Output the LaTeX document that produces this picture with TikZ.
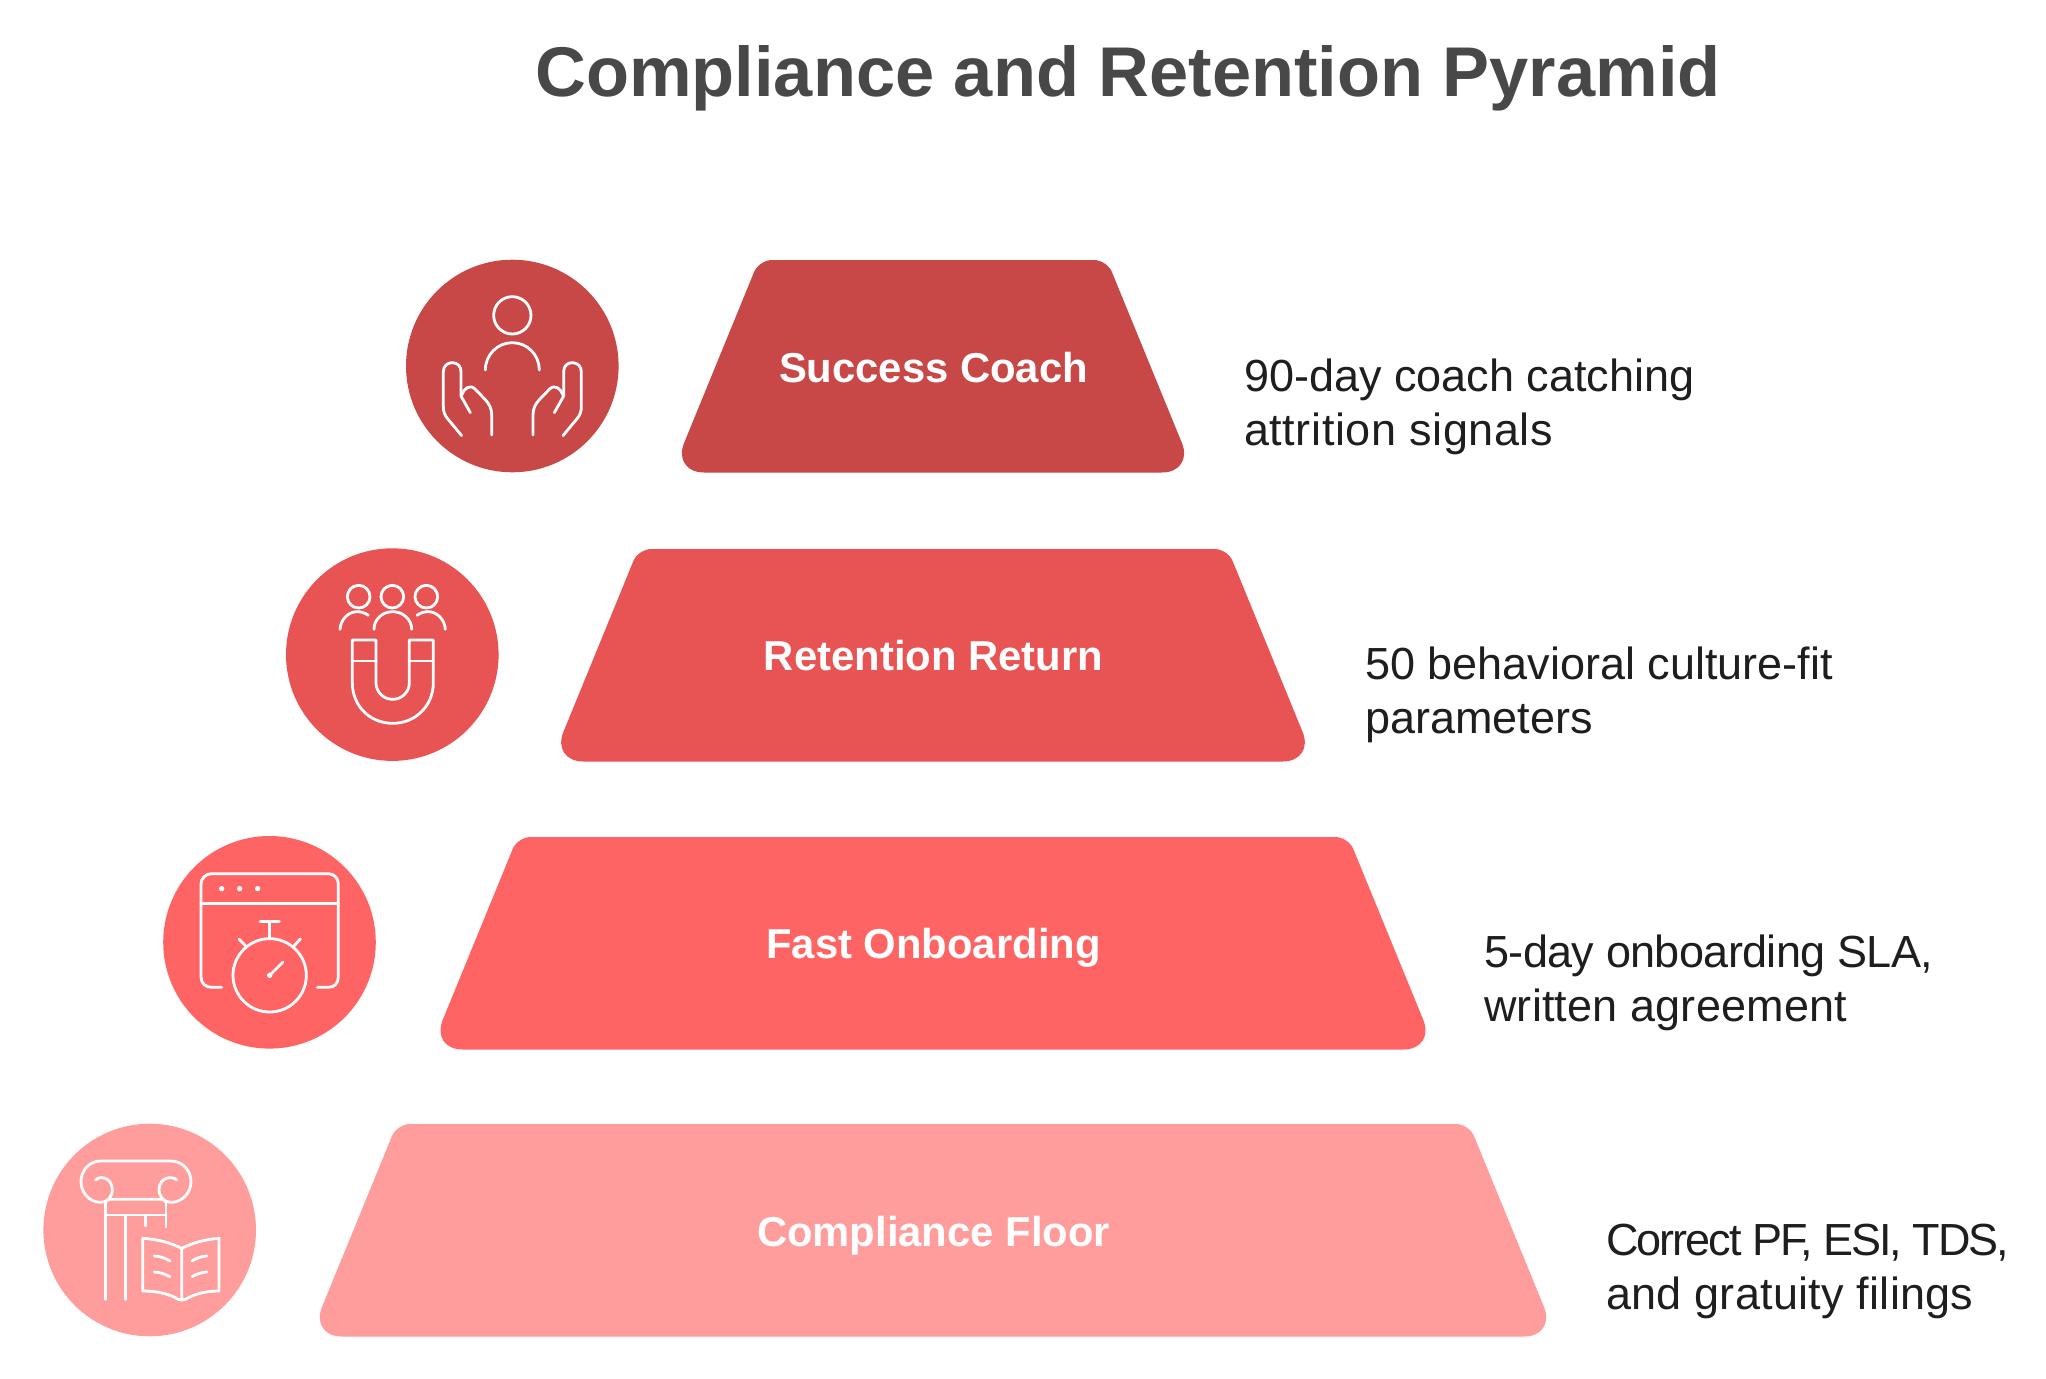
\documentclass[tikz,border=0pt]{standalone}
\usepackage{fontspec}
\setmainfont{Liberation Sans}
\definecolor{cA}{HTML}{C84848}
\definecolor{cB}{HTML}{E85353}
\definecolor{cC}{HTML}{FF6464}
\definecolor{cD}{HTML}{FF9C9C}
\definecolor{titlec}{HTML}{484848}
\definecolor{labelc}{HTML}{1E1E1E}
\tikzset{
  tier/.style={fill=#1},
  disc/.style={fill=#1},
  tiertext/.style={text=white,anchor=base,font=\bfseries\fontsize{41.8}{54}\selectfont,inner sep=0pt},
  sidetext/.style={text=labelc,anchor=west,align=left,inner sep=0pt,font=\fontsize{45}{54}\selectfont},
  titletext/.style={text=titlec,anchor=base,inner sep=0pt,font=\bfseries\fontsize{70.4}{80}\selectfont},
  iconline/.style={draw=white,line width=2.8pt,line cap=round,line join=round},
  zoomed/.style={shift={#1},x=0.33333pt,y=-0.33333pt}
}
\newcommand{\trap}[4]{% colour, top half, bottom half, top y
  \fill[tier=#1] (933,#4) [rounded corners=13pt] -- (933+#2,#4) [rounded corners=32pt] -- (933+#3,#4+212.5) -- (933-#3,#4+212.5) [rounded corners=13pt] -- (933-#2,#4) -- cycle;}
\newcommand{\spaced}[2]{{\addfontfeature{LetterSpace=#1}#2}}
\begin{document}
\begin{tikzpicture}[x=1pt,y=-1pt]
\useasboundingbox (0,0) rectangle (2046,1379);
\fill[white] (0,0) rectangle (2046,1379);
\node[titletext] (title) at (1128,96) {Compliance and Retention Pyramid};

\trap{cA}{174}{261}{260}
\trap{cB}{294.7}{381.7}{549}
\trap{cC}{415.4}{502.4}{837}
\trap{cD}{536.1}{623.1}{1124}

\node[tiertext] (t1) at (933.5,382) {Success Coach};
\node[tiertext] (t2) at (933.5,670) {Retention Return};
\node[tiertext] (t3) at (933.5,958) {Fast Onboarding};
\node[tiertext] (t4) at (933.5,1246) {Compliance Floor};

\node[sidetext] (s1) at (1244,407) {90-day coach catching\\\spaced{1.3}{attrition signals}};
\node[sidetext] (s2) at (1365,695) {50 behavioral culture-fit\\parameters};
\node[sidetext] (s3) at (1484,983) {\spaced{-1.4}{5-day onboarding SLA,}\\\spaced{0.4}{written agreement}};
\node[sidetext] (s4) at (1606,1271.5) {\spaced{-4.5}{Correct PF, ESI, TDS,}\\\spaced{0.6}{and gratuity filings}};

\fill[disc=cA] (512.3,366) circle[radius=106.3];
\fill[disc=cB] (392.3,654.6) circle[radius=106.3];
\fill[disc=cC] (269.5,942.3) circle[radius=106.3];
\fill[disc=cD] (149.7,1230) circle[radius=106.3];

% coach
\begin{scope}[zoomed={(390,240)},iconline]
\draw (367,226) circle[radius=56];
\draw (286,390) .. controls (286,345) and (322,308) .. (367,308) .. controls (412,308) and (448,345) .. (448,390);
\draw (215,587) -- (172,535) .. controls (164,525) and (160,515) .. (160,500) -- (160,395) .. controls (160,378) and (172,368) .. (187,368) .. controls (202,368) and (213,378) .. (213,395) -- (213,468) -- (241,518);
\draw (215,465) .. controls (222,445) and (240,432) .. (255,447) -- (285,478) .. controls (298,492) and (305,505) .. (305,525) -- (305,585);
\draw (519,587) -- (562,535) .. controls (570,525) and (574,515) .. (574,500) -- (574,395) .. controls (574,378) and (562,368) .. (547,368) .. controls (532,368) and (521,378) .. (521,395) -- (521,468) -- (493,518);
\draw (519,465) .. controls (512,445) and (494,432) .. (479,447) -- (449,478) .. controls (436,492) and (429,505) .. (429,525) -- (429,585);
\end{scope}

% magnet
\begin{scope}[zoomed={(270,531)},iconline]
\draw (266,197) circle[radius=34];
\draw (367,197) circle[radius=34];
\draw (469,197) circle[radius=34];
\draw (312,295) .. controls (312,265) and (337,242) .. (368,242) .. controls (399,242) and (425,265) .. (425,295);
\draw (210,295) .. controls (212,265) and (235,242) .. (262,242) .. controls (275,242) and (285,246) .. (295,253);
\draw (526,295) .. controls (524,265) and (501,242) .. (474,242) .. controls (461,242) and (451,246) .. (441,253);
\draw (247,327) -- (247,455) .. controls (247,525) and (300,577) .. (368,577) .. controls (436,577) and (490,525) .. (490,455) -- (490,327) -- (418,327) -- (418,455) .. controls (418,483) and (396,505) .. (368,505) .. controls (340,505) and (318,483) .. (318,455) -- (318,327) -- cycle;
\draw (247,390) -- (318,390);
\draw (418,390) -- (490,390);
\end{scope}

% stopwatch
\begin{scope}[zoomed={(150,821)},iconline]
\draw (215,499) -- (185,499) .. controls (167,499) and (153,487) .. (153,468) -- (153,190) .. controls (153,172) and (167,158) .. (185,158) -- (535,158) .. controls (553,158) and (565,172) .. (565,190) -- (565,468) .. controls (565,487) and (553,499) .. (535,499) -- (502,499);
\draw (153,247) -- (565,247);
\fill[white] (215,203) circle[radius=8] (269,203) circle[radius=8] (323,203) circle[radius=8];
\draw (359,463) circle[radius=110];
\draw (359,353) -- (359,301);
\draw (330,301) -- (388,301);
\draw (267,354) -- (289,377);
\draw (451,354) -- (430,377);
\draw (359,463) -- (399,423);
\fill[white] (359,463) circle[radius=8];
\end{scope}

% column and book
\begin{scope}[zoomed={(30,1111)},iconline]
\draw (197,207) .. controls (205,195) and (245,195) .. (247,235) .. controls (247,258) and (232,274) .. (213,274) .. controls (178,274) and (153,245) .. (153,212) .. controls (153,178) and (178,150) .. (213,150) -- (422,150) .. controls (457,150) and (483,178) .. (483,212) .. controls (483,245) and (457,274) .. (422,274) .. controls (403,274) and (387,258) .. (387,235) .. controls (389,195) and (430,195) .. (440,207);
\draw (227,275) .. controls (227,270) and (232,265) .. (240,265) -- (395,265) .. controls (402,265) and (408,270) .. (408,275);
\draw (227,275) -- (227,565);
\draw (287,312) -- (287,565);
\draw (408,275) -- (408,348);
\draw (347,312) -- (347,345);
\draw (227,312) -- (408,312);
\draw (455,412) .. controls (420,395) and (385,385) .. (338,382) -- (338,540) .. controls (385,540) and (420,550) .. (445,565) .. controls (452,568) and (458,568) .. (467,565) .. controls (490,550) and (525,540) .. (567,540) -- (567,382) .. controls (525,385) and (490,395) .. (455,412) -- (455,565);
\draw (373,435) .. controls (390,436) and (405,441) .. (420,450);
\draw (373,483) .. controls (390,484) and (405,489) .. (420,497);
\draw (531,435) .. controls (514,436) and (499,441) .. (486,450);
\draw (531,483) .. controls (514,484) and (499,489) .. (486,497);
\end{scope}
\end{tikzpicture}
\end{document}
